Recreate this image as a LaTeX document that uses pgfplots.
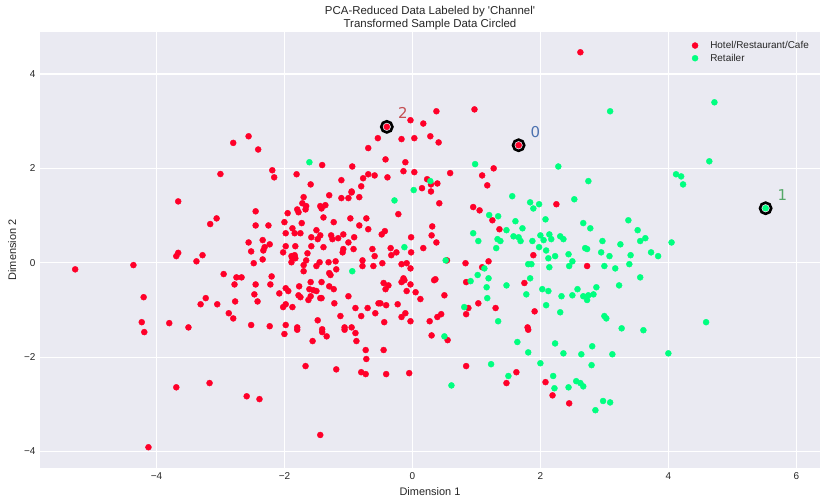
\documentclass[border=0pt]{standalone}
\usepackage{fontspec}
\setmainfont{Liberation Sans}[Ligatures=TeXOff]
\newfontfamily\djv{DejaVu Sans}
\usepackage{pgfplots}
\pgfplotsset{compat=1.18}
\definecolor{bgc}{HTML}{EAEAF2}
\definecolor{txt}{HTML}{262626}
\definecolor{hred}{HTML}{FF0029}
\definecolor{hgreen}{HTML}{00FF80}
\definecolor{sblue}{HTML}{4C72B0}
\definecolor{sgreen}{HTML}{55A868}
\definecolor{sred}{HTML}{C44E52}
\begin{document}
\begin{tikzpicture}
\path[use as bounding box] (-40bp,-36bp) rectangle (788bp,468bp);
\begin{axis}[
  at={(0,0)}, anchor=south west,
  scale only axis, width=780bp, height=436bp,
  xmin=-5.82, xmax=6.37, ymin=-4.35, ymax=4.89,
  axis background/.style={fill=bgc},
  axis line style={draw=none},
  major tick length=0pt,
  grid=major, major grid style={white, line width=1.1bp},
  xtick={-4,-2,0,2,4,6}, xticklabels={−4,−2,0,2,4,6},
  ytick={-4,-2,0,2,4}, yticklabels={−4,−2,0,2,4},
  tick label style={font=\fontsize{10}{12}\selectfont, text=txt},
  xticklabel style={yshift=-1bp},
  yticklabel style={xshift=-1bp},
  xlabel={Dimension 1}, ylabel={Dimension 2},
  label style={font=\fontsize{11}{13}\selectfont, text=txt},
  xlabel style={yshift=-1bp},
  ylabel style={yshift=1bp},
  title={PCA-Reduced Data Labeled by 'Channel'\\Transformed Sample Data Circled},
  title style={font=\fontsize{11.5}{12.5}\selectfont, text=txt, align=center, at={(0.5,1)}, anchor=south, yshift=-7bp},
  legend style={at={(1,1)}, anchor=north east, xshift=-6bp, yshift=-5bp, draw=none, fill=none,
    font=\fontsize{10}{13}\selectfont, text=txt, row sep=0bp},
  legend cell align=left,
  legend image code/.code={\path (0bp,0bp) (17bp,0bp); \draw[#1] plot coordinates {(4bp,0bp)};},
]
\addplot[only marks, mark=*, mark size=3bp, hred, mark options={draw=hred, fill=hred}] table[row sep=\\] {
x y\\
-3.00 1.88\\ -2.80 2.54\\ -2.56 2.68\\ -2.41 2.40\\ -2.19 1.96\\ -2.16 1.81\\ -1.81 1.875\\ -1.59 1.66\\
-1.41 2.07\\ -1.11 1.75\\ -0.94 2.04\\ -0.69 2.43\\ -0.54 2.64\\ -0.77 1.79\\ -0.69 1.875\\ -0.59 1.85\\
-0.80 1.62\\ -0.95 1.51\\
-0.40 2.88\\ -0.03 3.02\\ 0.17 2.95\\ 0.375 3.21\\ 0.97 3.25\\ -0.17 2.62\\ 0.03 2.64\\ 0.28 2.68\\
0.41 2.55\\ -0.42 2.19\\ -0.11 2.13\\ -0.39 1.81\\ -0.14 1.94\\ 0.03 1.92\\ 0.23 1.77\\ 0.15 1.58\\
0.29 1.66\\ 0.39 1.68\\ 0.29 1.51\\ 0.59 1.90\\ 1.09 1.85\\ 1.27 2.00\\ 1.17 1.64\\ 1.66 2.49\\
2.625 4.46\\
-3.66 1.30\\ -3.06 0.94\\ -3.16 0.82\\ -3.66 0.21\\ -3.69 0.14\\ -3.28 0.16\\ -3.375 0.03\\ -5.27 -0.14\\
-4.36 -0.05\\ -2.95 -0.24\\ -4.20 -0.73\\ -3.23 -0.75\\ -3.31 -0.88\\ -3.05 -0.88\\ -2.87 -1.07\\ -4.23 -1.26\\
-3.80 -1.28\\ -3.50 -1.37\\
-4.19 -1.47\\ -3.69 -2.64\\ -3.17 -2.55\\ -4.125 -3.91\\
-2.00 -1.51\\ -1.80 -1.42\\ -1.41 -1.47\\ -1.34 -1.56\\ -1.56 -1.66\\ -1.06 -1.42\\ -0.89 -1.49\\ -0.875 -1.66\\
-0.73 -1.85\\ -0.72 -2.04\\ -1.67 -2.19\\ -1.19 -2.26\\ -0.80 -2.32\\ -0.73 -2.36\\ -2.59 -2.83\\ -2.39 -2.89\\
-1.44 -3.65\\
0.30 -1.54\\ 0.55 -1.64\\ -0.45 -1.85\\ 1.81 -1.42\\ -0.41 -2.36\\ -0.05 -2.34\\ 0.84 -2.19\\ 1.625 -2.32\\
1.47 -2.55\\
2.08 -2.53\\ 2.19 -2.81\\ 2.45 -2.98\\
2.25 1.24\\ 1.89 0.16\\ 2.73 -0.07\\ 1.91 -1.03\\
0.42 1.26\\ -0.22 1.03\\ 0.95 1.18\\ 1.05 1.11\\ 1.25 0.90\\ 0.31 0.77\\ 1.36 0.71\\ -0.43 0.67\\
-0.48 0.60\\ 0.30 0.58\\ -0.02 0.54\\ 0.375 0.43\\ -0.34 0.31\\ 0.17 0.31\\ -0.25 0.22\\ -0.33 0.16\\
-0.02 0.22\\ 0.54 0.05\\ -0.47 -0.01\\ -0.17 -0.03\\ -0.09 -0.01\\ -0.03 -0.12\\ 0.83 -0.01\\ 1.19 0.03\\
1.09 -0.095\\ 0.84 -0.41\\ 0.36 -0.35\\ 0.34 -0.37\\ -0.14 -0.33\\ -0.17 -0.41\\ -0.125 -0.37\\ -0.45 -0.43\\
-0.375 -0.48\\ -0.42 -0.56\\ -0.03 -0.46\\ -0.09 -0.60\\ 0.05 -0.625\\ 0.125 -0.77\\ 0.5 -0.69\\ 1.75 -0.43\\
1.03 -0.86\\ 0.875 -0.96\\ 0.84 -1.09\\ 1.30 -0.96\\ 1.80 -1.37\\ -0.50 -0.86\\ -0.41 -0.90\\ -0.23 -0.88\\
-0.11 -1.07\\ -0.17 -1.15\\ -0.03 -1.24\\ -0.44 -1.26\\ 0.27 -1.24\\ 0.39 -1.15\\ 0.45 -1.09\\
-1.70 1.39\\ -1.30 1.43\\ -1.11 1.37\\ -1.00 1.37\\ -0.95 1.49\\ -0.83 1.39\\ -1.72 1.26\\ -1.66 1.20\\
-1.67 1.13\\ -1.80 1.13\\ -1.78 1.07\\ -1.44 1.20\\ -1.36 1.22\\ -1.42 1.15\\ -2.45 1.09\\ -1.95 1.05\\
-1.39 0.96\\ -0.97 0.94\\ -0.72 0.94\\ -2.45 0.79\\ -2.25 0.79\\ -2.00 0.86\\ -1.73 0.84\\ -1.23 0.86\\
-0.83 0.79\\ -0.69 0.71\\ -1.875 0.73\\ -1.50 0.69\\ -1.98 0.625\\ -1.84 0.625\\ -1.75 0.625\\ -1.58 0.54\\
-1.44 0.58\\ -1.48 0.50\\ -1.27 0.58\\ -1.25 0.50\\ -1.16 0.52\\ -1.08 0.60\\ -0.91 0.54\\ -1.00 0.43\\
-2.34 0.48\\ -2.23 0.39\\ -2.56 0.43\\ -2.31 0.33\\ -2.33 0.26\\ -2.52 0.24\\ -1.98 0.35\\ -1.83 0.35\\
-2.02 0.22\\ -1.58 0.35\\ -1.39 0.33\\ -1.64 0.20\\ -1.08 0.29\\ -1.09 0.22\\ -0.92 0.29\\ -0.625 0.29\\
-0.59 0.14\\ -1.89 0.14\\ -1.84 0.16\\ -1.83 0.095\\ -1.875 0.095\\ -2.34 0.07\\ -1.66 0.05\\ -2.48 -0.01\\
-1.89 0.01\\ -1.45 0.01\\ -1.31 0.01\\ -1.20 0.03\\ -0.78 0.05\\ -1.70 -0.05\\ -1.50 -0.07\\ -1.19 -0.14\\
-0.78 -0.07\\ -0.61 -0.07\\ -1.70 -0.18\\ -1.30 -0.22\\ -1.28 -0.26\\ -2.75 -0.31\\ -2.67 -0.31\\ -2.20 -0.29\\
-2.78 -0.46\\ -2.45 -0.46\\ -2.22 -0.46\\ -1.59 -0.41\\ -1.42 -0.41\\ -1.77 -0.50\\ -1.30 -0.50\\ -1.23 -0.56\\
-1.98 -0.54\\ -1.94 -0.60\\ -1.61 -0.56\\ -1.55 -0.58\\ -1.50 -0.60\\ -2.08 -0.65\\ -2.47 -0.67\\ -1.78 -0.69\\
-1.75 -0.73\\ -1.59 -0.71\\ -1.44 -0.75\\ -1.42 -0.75\\ -1.00 -0.71\\ -2.42 -0.82\\ -2.77 -0.82\\ -1.625 -0.79\\
-1.22 -0.86\\ -1.98 -0.88\\ -2.02 -0.94\\ -1.875 -0.94\\ -0.89 -0.96\\ -0.70 -0.96\\ -0.53 -0.86\\ -1.125 -1.13\\
-0.80 -1.13\\ -0.58 -1.07\\ -2.80 -1.18\\ -1.48 -1.22\\ -2.52 -1.32\\ -2.23 -1.345\\ -1.98 -1.32\\ -1.80 -1.37\\
-1.41 -1.41\\ -1.06 -1.37\\ -0.95 -1.37\\
};
\addlegendentry{Hotel/Restaurant/Cafe}
\addplot[only marks, mark=*, mark size=3bp, hgreen, mark options={draw=hgreen, fill=hgreen}] table[row sep=\\] {
x y\\
-1.61 2.13\\ 0.28 1.73\\ 0.02 1.54\\ 0.98 2.09\\
3.09 3.21\\ 4.72 3.40\\ 2.28 2.04\\ 2.75 1.73\\ 4.64 2.15\\ 4.12 1.875\\ 4.20 1.83\\ 4.23 1.66\\
0.50 -1.56\\ 1.64 -1.68\\ 1.81 -1.90\\ 1.23 -2.15\\ 1.50 -2.40\\ 0.61 -2.60\\
2.23 -1.71\\ 2.81 -1.77\\ 2.36 -1.92\\ 2.64 -1.94\\ 3.125 -1.94\\ 4.00 -1.92\\ 2.00 -2.13\\ 2.80 -2.17\\
2.20 -2.40\\ 2.22 -2.66\\ 2.44 -2.64\\ 2.56 -2.51\\ 2.625 -2.55\\ 2.67 -2.62\\ 2.98 -2.93\\ 3.09 -2.96\\
2.86 -3.125\\
2.53 1.345\\ 1.98 1.24\\ 1.84 1.28\\ 1.89 1.15\\ 5.52 1.155\\ 2.08 0.92\\ 2.67 0.84\\ 2.78 0.73\\
3.375 0.90\\ 3.52 0.69\\ 2.00 0.58\\ 2.14 0.60\\ 2.31 0.56\\ 2.36 0.50\\ 2.05 0.48\\ 2.17 0.50\\
1.875 0.46\\ 3.64 0.52\\ 3.56 0.46\\ 2.97 0.46\\ 3.25 0.39\\ 4.05 0.43\\ 1.98 0.33\\ 2.09 0.26\\
2.70 0.31\\ 2.73 0.29\\ 2.95 0.22\\ 3.73 0.22\\ 2.44 0.18\\ 2.125 0.095\\ 2.23 0.14\\ 2.50 0.03\\
3.08 0.14\\ 3.41 0.16\\ 3.84 0.14\\ 1.86 -0.03\\ 2.14 -0.095\\ 2.45 -0.07\\ 3.00 -0.07\\ 3.17 -0.12\\
3.39 -0.03\\ 3.56 -0.31\\ 1.84 -0.33\\ 3.23 -0.48\\ 2.03 -0.56\\ 2.125 -0.60\\ 2.58 -0.56\\ 2.875 -0.52\\
2.33 -0.71\\ 2.50 -0.69\\ 2.67 -0.71\\ 2.75 -0.69\\ 2.83 -0.67\\ 2.73 -0.79\\ 2.09 -0.90\\ 2.31 -1.05\\
3.00 -1.13\\ 3.03 -1.18\\ 4.59 -1.26\\ 3.27 -1.39\\ 3.61 -1.43\\
-0.28 1.32\\ 1.56 1.41\\ 1.20 1.01\\ 1.34 0.985\\ 1.61 0.88\\ 1.72 0.73\\ 1.47 0.69\\ 0.95 0.625\\
1.58 0.56\\ 1.66 0.54\\ 1.33 0.50\\ 1.375 0.46\\ 1.69 0.46\\ 1.03 0.46\\ -0.125 0.33\\ 1.31 0.31\\
0.52 0.05\\ 1.125 -0.12\\ 1.81 -0.03\\ 1.02 -0.26\\ 1.19 -0.33\\ 0.91 -0.39\\ 1.16 -0.52\\ 1.47 -0.48\\
1.78 -0.67\\ 1.17 -0.75\\ 0.81 -0.94\\ 1.34 -1.24\\ -0.94 -0.18\\
};
\addlegendentry{Retailer}
\addplot[only marks, mark=o, mark size=5.6bp, line width=2.6bp, black, forget plot] coordinates {(1.66,2.49) (5.52,1.155) (-0.40,2.88)};
\node[text=sblue, font=\djv\fontsize{15}{15}\selectfont] at (axis cs:1.92,2.77) {0};
\node[text=sgreen, font=\djv\fontsize{15}{15}\selectfont] at (axis cs:5.78,1.44) {1};
\node[text=sred, font=\djv\fontsize{15}{15}\selectfont] at (axis cs:-0.15,3.17) {2};
\end{axis}
\end{tikzpicture}
\end{document}
